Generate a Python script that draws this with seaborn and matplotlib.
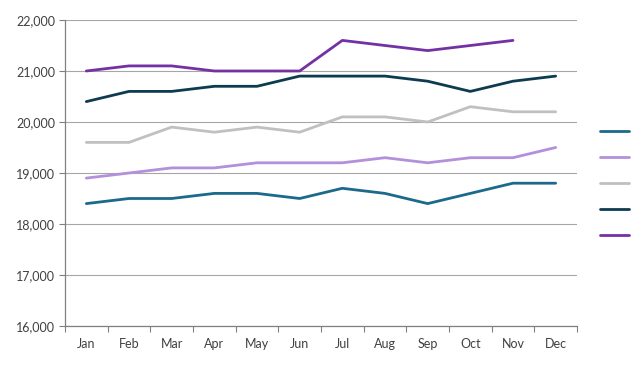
import numpy as np
import pandas as pd
import matplotlib
matplotlib.use("Agg")
import matplotlib.pyplot as plt
import seaborn as sns
from matplotlib.ticker import FuncFormatter, FixedLocator

months = ["Jan", "Feb", "Mar", "Apr", "May", "Jun", "Jul", "Aug", "Sep", "Oct", "Nov", "Dec"]
series_names = ["Series 1", "Series 2", "Series 3", "Series 4", "Series 5"]
s1 = [18400, 18500, 18500, 18600, 18600, 18500, 18700, 18600, 18400, 18600, 18800, 18800]
s2 = [18900, 19000, 19100, 19100, 19200, 19200, 19200, 19300, 19200, 19300, 19300, 19500]
s3 = [19600, 19600, 19900, 19800, 19900, 19800, 20100, 20100, 20000, 20300, 20200, 20200]
s4 = [20400, 20600, 20600, 20700, 20700, 20900, 20900, 20900, 20800, 20600, 20800, 20900]
s5 = [21000, 21100, 21100, 21000, 21000, 21000, 21600, 21500, 21400, 21500, 21600, np.nan]
colors = ["#1b6a8c", "#b390dc", "#c0c0c0", "#0d3b50", "#7431a3"]

rows = []
for name, vals in zip(series_names, [s1, s2, s3, s4, s5]):
    for i, (m, v) in enumerate(zip(months, vals)):
        rows.append({"series": name, "idx": i, "month": m, "value": v})
df = pd.DataFrame(rows)

sns.set_theme(style="white")
plt.rcParams["font.family"] = ["Lato", "DejaVu Sans"]

fig = plt.figure(figsize=(6.4, 3.69), dpi=100)
ax = fig.add_axes([65/640, 1 - 326/369, (577 - 65)/640, (326 - 20)/369])

sns.lineplot(data=df, x="idx", y="value", hue="series", palette=colors,
             linewidth=2.0, ax=ax, legend=False, sort=False)

ax.set_ylim(16000, 22000)
ax.set_xlim(-0.5, 11.5)
ax.set_yticks(np.arange(16000, 22001, 1000))
ax.yaxis.set_major_formatter(FuncFormatter(lambda v, p: f"{int(v):,}"))
ax.set_xticks(range(12))
ax.set_xticklabels(months)
ax.xaxis.set_minor_locator(FixedLocator(np.arange(-0.5, 12, 1)))
ax.tick_params(axis="x", which="major", length=0, pad=9, labelsize=9, colors="#404040")
ax.tick_params(axis="x", which="minor", length=4, width=0.8, color="#808080", bottom=True)
ax.tick_params(axis="y", length=4, width=0.8, color="#808080", labelsize=9, labelcolor="#404040", pad=3, left=True)
ax.set_xlabel("")
ax.set_ylabel("")
ax.grid(axis="y", color="#a6a6a6", linewidth=0.8)
ax.set_axisbelow(True)
for s in ["top", "right"]:
    ax.spines[s].set_visible(False)
for s in ["left", "bottom"]:
    ax.spines[s].set_color("#808080")
    ax.spines[s].set_linewidth(0.9)

handles = [plt.Line2D([0], [0], color=c, linewidth=2.0) for c in colors]
fig.legend(handles, [""] * 5, loc="upper left", bbox_to_anchor=(588/640, 1 - 114/369),
           frameon=False, handlelength=2.2, labelspacing=1.05, fontsize=9.5,
           handletextpad=0)

fig.savefig("out.png", dpi=100)
